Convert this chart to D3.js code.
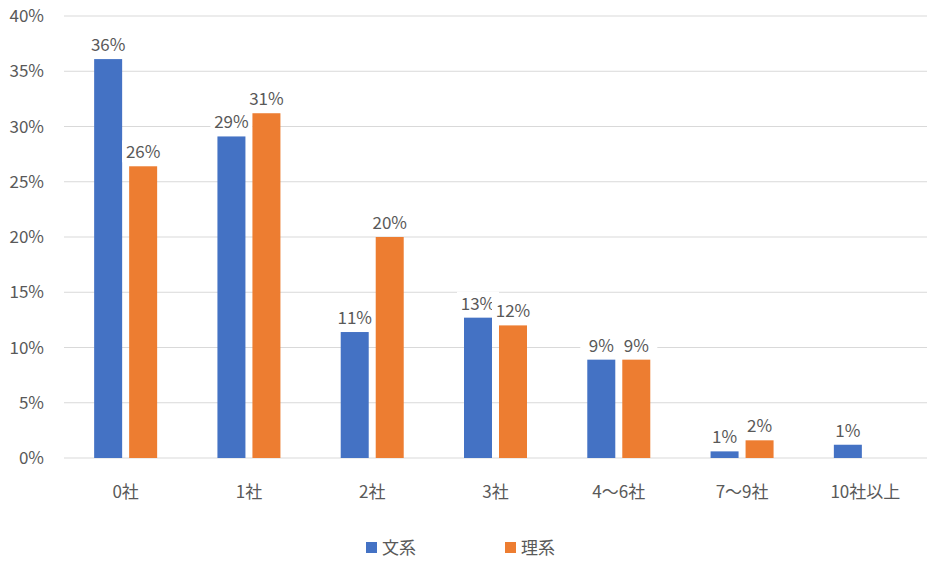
<!DOCTYPE html>
<html><head><meta charset="utf-8">
<script src="https://cdn.jsdelivr.net/npm/d3@7"></script>
<style>body{margin:0;background:#fff}text{font-family:"Noto Sans CJK JP","Noto Sans",sans-serif;fill:#595959}</style>
</head><body><svg id="c" width="938" height="567"></svg>
<script>
const categories = ['0社','1社','2社','3社','4〜6社','7〜9社','10社以上'];
const bunkei = [36.1, 29.1, 11.4, 12.7, 8.9, 0.6, 1.2];
const rikei = [26.4, 31.2, 20.0, 12.0, 8.9, 1.6, 0];
const seriesNames = ['文系','理系'];
const colors = ['#4472C4','#ED7D31'];
const yTicks = [0,5,10,15,20,25,30,35,40];

const svg = d3.select('#c');
const x = d3.scaleBand().domain(categories).range([64, 927]);
const y = d3.scaleLinear().domain([0, 40]).range([458, 16]);
const bw = 28, gap = 7;

svg.append('g').selectAll('line').data(yTicks).enter().append('line')
  .attr('x1', 64).attr('x2', 927).attr('y1', d => y(d)).attr('y2', d => y(d))
  .attr('stroke', '#D9D9D9').attr('stroke-width', 1);
svg.append('g').selectAll('text').data(yTicks).enter().append('text')
  .attr('x', 44).attr('y', d => y(d) + 6).attr('text-anchor', 'end')
  .style('font-size', '17px').text(d => d + '%');
svg.append('g').selectAll('text').data(categories).enter().append('text')
  .attr('x', d => x(d) + x.bandwidth() / 2).attr('y', 498).attr('text-anchor', 'middle')
  .style('font-size', '17px').text(d => d);

[bunkei, rikei].forEach((vals, si) => {
  const off = si === 0 ? -bw - gap / 2 : gap / 2;
  const data = vals.map((v, i) => ({c: categories[i], v})).filter(d => d.v > 0);
  const g = svg.append('g');
  g.selectAll('rect').data(data).enter().append('rect')
    .attr('x', d => x(d.c) + x.bandwidth() / 2 + off).attr('width', bw)
    .attr('y', d => y(d.v)).attr('height', d => y(0) - y(d.v))
    .attr('fill', colors[si]);
  const lg = g.selectAll('g.l').data(data).enter().append('g')
    .attr('transform', d => `translate(${x(d.c) + x.bandwidth() / 2 + off + bw / 2},${y(d.v) - 12})`);
  lg.append('rect').attr('x', -21).attr('y', -14).attr('width', 42).attr('height', 22).attr('fill', '#fff');
  lg.append('text').attr('text-anchor', 'middle').attr('y', 4)
    .style('font-size', '17px').text(d => Math.round(d.v) + '%');
});

const leg = svg.append('g').selectAll('g').data(seriesNames).enter().append('g')
  .attr('transform', (d, i) => `translate(${366 + i * 139},548)`);
leg.append('rect').attr('x', 0).attr('y', -6).attr('width', 11).attr('height', 11).attr('fill', (d, i) => colors[i]);
leg.append('text').attr('x', 16).attr('y', 6).style('font-size', '17px').text(d => d);
</script></body></html>
